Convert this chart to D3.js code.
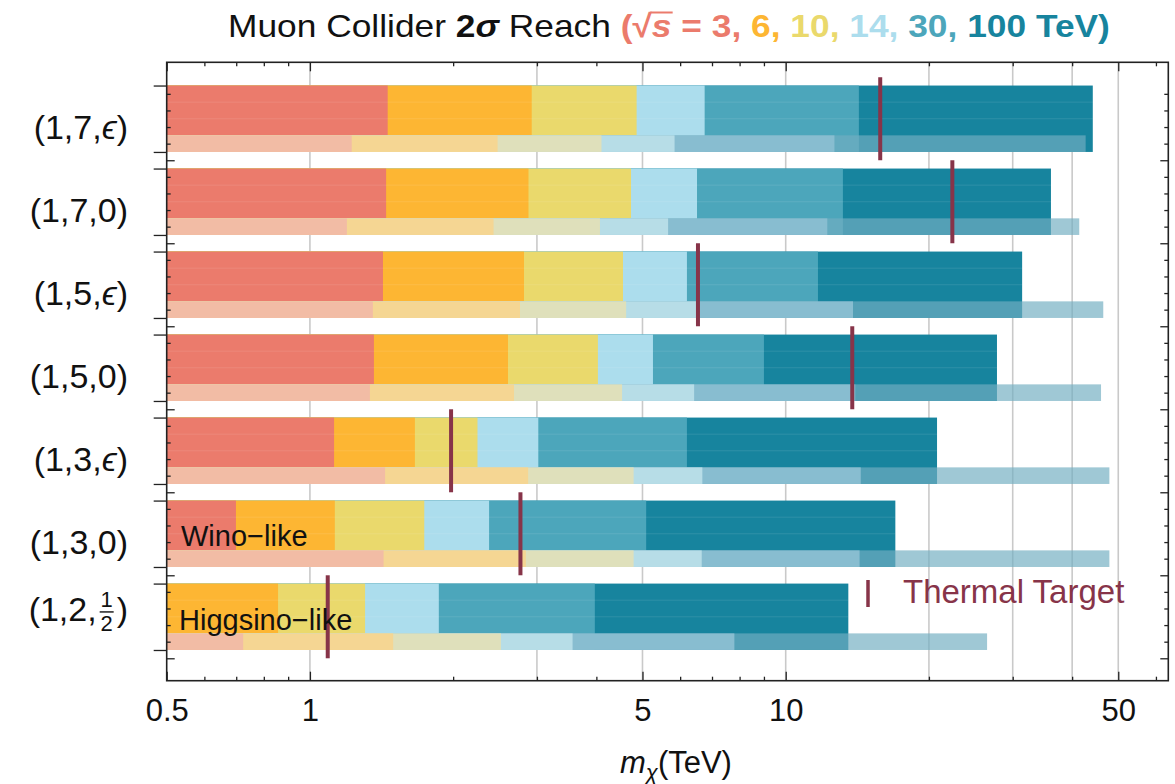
<!DOCTYPE html>
<html><head><meta charset="utf-8">
<script src="https://cdn.jsdelivr.net/npm/d3@7"></script>
<style>
body{margin:0;background:#fff}
svg{display:block}
text{font-family:"Liberation Sans",Arial,"DejaVu Sans",sans-serif}
</style>
</head><body>
<svg id="c" width="1175" height="784"></svg>
<script>
// ---------------- data ----------------
const energies  = ["3", "6", "10", "14", "30", "100"];
const rowLabels = ["(1,7,ϵ)", "(1,7,0)", "(1,5,ϵ)", "(1,5,0)", "(1,3,ϵ)", "(1,3,0)", "(1,2,½)"];

// main (2σ) reach in TeV per row, one array per collider energy
const reach3   = [1.457, 1.446, 1.424, 1.363, 1.124, 0.699, null];
const reach6   = [2.925, 2.88, 2.818, 2.608, 1.662, 1.128, 0.857];
const reach10  = [4.86, 4.73, 4.55, 4.03, 2.25, 1.739, 1.306];
const reach14  = [6.755, 6.51, 6.20, 5.26, 3.02, 2.38, 1.866];
const reach30  = [14.25, 13.19, 11.69, 9.00, 6.20, 5.09, 3.97];
const reach100 = [44.2, 36.1, 31.4, 27.8, 20.8, 17.0, 13.54];

// lighter strip (alternative estimate) reach in TeV
const alt3   = [1.224, 1.196, 1.356, 1.337, 1.439, 1.428, 0.724];
const alt6   = [2.48, 2.432, 2.764, 2.685, 2.875, 2.843, 1.496];
const alt10  = [4.10, 4.07, 4.62, 4.53, 4.79, 4.79, 2.52];
const alt14  = [5.84, 5.66, 6.51, 6.42, 6.68, 6.66, 3.565];
const alt30  = [12.66, 12.23, 13.85, 14.0, 14.38, 14.30, 7.80];
const alt100 = [42.7, 41.4, 46.5, 46.0, 47.9, 47.9, 26.5];

// thermal target masses (TeV)
const thermal = [15.8, 22.4, 6.54, 13.8, 1.98, 2.77, 1.09];

const xTickLabels = [0.5, 1, 5, 10, 50];
const xMinorTicks = [0.6, 0.7, 0.8, 0.9, 2, 3, 4, 6, 7, 8, 9, 20, 30, 40, 60];
const gridValues  = [1, 3, 5, 10, 20, 30, 40, 50];

// ---------------- styles ----------------
const mainColors = ["#eb7b6c", "#fdb633", "#ead96c", "#acdded", "#4ca6bb", "#17849e"];
const altColors  = ["#f2bca5", "#f5d693", "#dfe0bb", "#b7dde7", "#88bdd0", "#72aec1"];
const altOpacity = [1, 1, 1, 1, 1, 0.68];
const thermalColor = "#873449";

const mainSeries = [reach3, reach6, reach10, reach14, reach30, reach100];
const altSeries  = [alt3, alt6, alt10, alt14, alt30, alt100];

const svg = d3.select("#c");
const L = 166.7, R = 1168.3, T = 62.3, B = 680.7;
const x = d3.scaleLog().domain([0.5, 63.7]).range([L, R]);
const y = d3.scaleLinear().domain([-0.28, 7.17]).range([T, B]);

// grid
svg.append("g").selectAll("line").data(gridValues).join("line")
  .attr("x1", d => x(d)).attr("x2", d => x(d))
  .attr("y1", T).attr("y2", B)
  .attr("stroke", "#c9c9c9").attr("stroke-width", 1.6);

// bars
const gBars = svg.append("g");
rowLabels.forEach((lab, i) => {
  for (let k = mainSeries.length - 1; k >= 0; k--) {
    const v = mainSeries[k][i];
    if (v == null) continue;
    gBars.append("rect")
      .attr("x", x(0.5)).attr("width", x(v) - x(0.5))
      .attr("y", y(i)).attr("height", y(i + 0.8) - y(i))
      .attr("fill", mainColors[k]);
  }
  const vmax = d3.max(mainSeries, s => s[i]);
  [0.2, 0.4].forEach(f => {
    gBars.append("line")
      .attr("x1", x(0.5)).attr("x2", x(vmax))
      .attr("y1", y(i + f)).attr("y2", y(i + f))
      .attr("stroke", "#ffffff").attr("stroke-opacity", 0.1).attr("stroke-width", 1);
  });
  for (let k = altSeries.length - 1; k >= 0; k--) {
    const v = altSeries[k][i];
    if (v == null) continue;
    gBars.append("rect")
      .attr("x", x(0.5)).attr("width", x(v) - x(0.5))
      .attr("y", y(i + 0.6)).attr("height", y(i + 0.8) - y(i + 0.6))
      .attr("fill", altColors[k]).attr("fill-opacity", altOpacity[k]);
  }
});

// thermal target markers
svg.append("g").selectAll("line").data(thermal).join("line")
  .attr("x1", d => x(d)).attr("x2", d => x(d))
  .attr("y1", (d, i) => y(i - 0.1)).attr("y2", (d, i) => y(i + 0.9))
  .attr("stroke", thermalColor).attr("stroke-width", 4);

// frame
svg.append("rect").attr("x", L).attr("y", T).attr("width", R - L).attr("height", B - T)
  .attr("fill", "none").attr("stroke", "#222").attr("stroke-width", 1.6);

// x axes (ticks inward)
function styleAxis(g) {
  g.select(".domain").remove();
  g.selectAll(".tick line").attr("stroke", "#222").attr("stroke-width", 1.3);
}
svg.append("g").attr("transform", `translate(0,${B})`)
  .call(d3.axisBottom(x).tickValues(xTickLabels).tickSizeInner(-9).tickSizeOuter(0)
    .tickPadding(18).tickFormat(d => String(d)))
  .call(styleAxis)
  .call(g => g.selectAll(".tick text").attr("font-size", 31).attr("fill", "#111")
    .attr("font-family", "Liberation Sans, Arial, sans-serif"));
svg.append("g").attr("transform", `translate(0,${B})`)
  .call(d3.axisBottom(x).tickValues(xMinorTicks).tickSizeInner(-4).tickSizeOuter(0).tickFormat(""))
  .call(styleAxis);
svg.append("g").attr("transform", `translate(0,${T})`)
  .call(d3.axisTop(x).tickValues(xTickLabels).tickSizeInner(-9).tickSizeOuter(0).tickFormat(""))
  .call(styleAxis);
svg.append("g").attr("transform", `translate(0,${T})`)
  .call(d3.axisTop(x).tickValues(xMinorTicks).tickSizeInner(-4).tickSizeOuter(0).tickFormat(""))
  .call(styleAxis);

// y axes ticks
const rowIdx = d3.range(rowLabels.length);
const outerTicks = rowIdx.flatMap(i => [i, i + 0.8]);
const innerTicks = rowIdx.flatMap(i => [i + 0.1, i + 0.3, i + 0.5, i + 0.7]);
const gapTicks = rowIdx.map(i => i + 0.9);
svg.append("g").attr("transform", `translate(${L},0)`)
  .call(d3.axisLeft(y).tickValues(outerTicks).tickSizeInner(13).tickSizeOuter(0).tickFormat(""))
  .call(styleAxis);
svg.append("g").attr("transform", `translate(${L},0)`)
  .call(d3.axisLeft(y).tickValues(innerTicks).tickSizeInner(-4).tickSizeOuter(0).tickFormat(""))
  .call(styleAxis);
svg.append("g").attr("transform", `translate(${L},0)`)
  .call(d3.axisLeft(y).tickValues(gapTicks).tickSizeInner(-8).tickSizeOuter(0).tickFormat(""))
  .call(styleAxis);
svg.append("g").attr("transform", `translate(${R},0)`)
  .call(d3.axisRight(y).tickValues(innerTicks).tickSizeInner(-4).tickSizeOuter(0).tickFormat(""))
  .call(styleAxis);
svg.append("g").attr("transform", `translate(${R},0)`)
  .call(d3.axisRight(y).tickValues(gapTicks).tickSizeInner(-8).tickSizeOuter(0).tickFormat(""))
  .call(styleAxis);

// row labels
const labX = 128;
rowLabels.forEach((lab, i) => {
  if (lab.includes("½")) {
    const base = y(i + 0.45);
    const close = svg.append("text").attr("x", labX).attr("y", base).attr("text-anchor", "end")
      .attr("font-size", 34).attr("fill", "#111").text(")");
    const wc = close.node().getComputedTextLength();
    const fx = labX - wc - 10;
    svg.append("text").attr("x", fx).attr("y", base - 14).attr("text-anchor", "middle")
      .attr("font-size", 22).attr("fill", "#111").text("1");
    svg.append("line").attr("x1", fx - 7).attr("x2", fx + 7).attr("y1", base - 9).attr("y2", base - 9)
      .attr("stroke", "#111").attr("stroke-width", 1.4);
    svg.append("text").attr("x", fx).attr("y", base + 10).attr("text-anchor", "middle")
      .attr("font-size", 22).attr("fill", "#111").text("2");
    svg.append("text").attr("x", fx - 10).attr("y", base).attr("text-anchor", "end")
      .attr("font-size", 34).attr("fill", "#111").text("(1,2,");
  } else {
    const t = svg.append("text").attr("x", labX).attr("y", y(i + 0.64)).attr("text-anchor", "end")
      .attr("font-size", 34).attr("fill", "#111");
    const parts = lab.split("ϵ");
    t.append("tspan").text(parts[0]);
    if (parts.length > 1) {
      t.append("tspan").attr("font-style", "italic").text("ϵ");
      t.append("tspan").text(parts[1]);
    }
  }
});

// in-plot annotations
svg.append("text").attr("x", 181).attr("y", y(5.55)).attr("font-size", 29).attr("fill", "#111").text("Wino−like");
svg.append("text").attr("x", 179).attr("y", y(6.56)).attr("font-size", 29).attr("fill", "#111").text("Higgsino−like");

// thermal target legend
svg.append("line").attr("x1", 868).attr("x2", 868).attr("y1", 580).attr("y2", 607)
  .attr("stroke", thermalColor).attr("stroke-width", 3.5);
svg.append("text").attr("x", 903).attr("y", 603).attr("font-size", 33).attr("fill", thermalColor).text("Thermal Target");

// x axis title
const xt = svg.append("text").attr("x", 676).attr("y", 773).attr("text-anchor", "middle")
  .attr("font-size", 31).attr("fill", "#111");
xt.append("tspan").attr("font-style", "italic").text("m");
xt.append("tspan").attr("font-style", "italic").attr("font-size", 22).attr("dy", 7).text("χ");
xt.append("tspan").attr("dy", -7).text("(TeV)");

// title
const gT = svg.append("g");
const title = gT.append("text").attr("x", 0).attr("y", 0).attr("font-size", 32).attr("fill", "#111");
title.append("tspan").text("Muon Collider ");
title.append("tspan").attr("font-weight", "bold").text("2");
title.append("tspan").attr("font-weight", "bold").attr("font-style", "italic").text("σ");
title.append("tspan").text(" Reach ");
title.append("tspan").attr("fill", mainColors[0]).attr("font-weight", "bold").text("(√");
title.append("tspan").attr("fill", mainColors[0]).attr("font-style", "italic").attr("font-weight", "bold").text("s");
title.append("tspan").attr("fill", mainColors[0]).attr("font-weight", "bold").text(" = " + energies[0] + ", ");
title.append("tspan").attr("fill", mainColors[1]).attr("font-weight", "bold").text(energies[1] + ",  ");
title.append("tspan").attr("fill", mainColors[2]).attr("font-weight", "bold").text(energies[2] + ",  ");
title.append("tspan").attr("fill", mainColors[3]).attr("font-weight", "bold").text(energies[3] + ",  ");
title.append("tspan").attr("fill", mainColors[4]).attr("font-weight", "bold").text(energies[4] + ",  ");
title.append("tspan").attr("fill", mainColors[5]).attr("font-weight", "bold").text(energies[5] + " TeV)");
const full = title.node().textContent;
const iSq = full.indexOf("√"), iS = iSq + 1;
const eSq = title.node().getExtentOfChar(iSq), eS = title.node().getExtentOfChar(iS);
gT.append("line").attr("x1", eSq.x + eSq.width - 1.5).attr("x2", eS.x + eS.width + 1)
  .attr("y1", -24.5).attr("y2", -24.5).attr("stroke", mainColors[0]).attr("stroke-width", 2);
const tw = title.node().getComputedTextLength();
const sx = 882 / tw;
gT.attr("transform", `translate(228,37) scale(${sx},1)`);
</script>
</body></html>
